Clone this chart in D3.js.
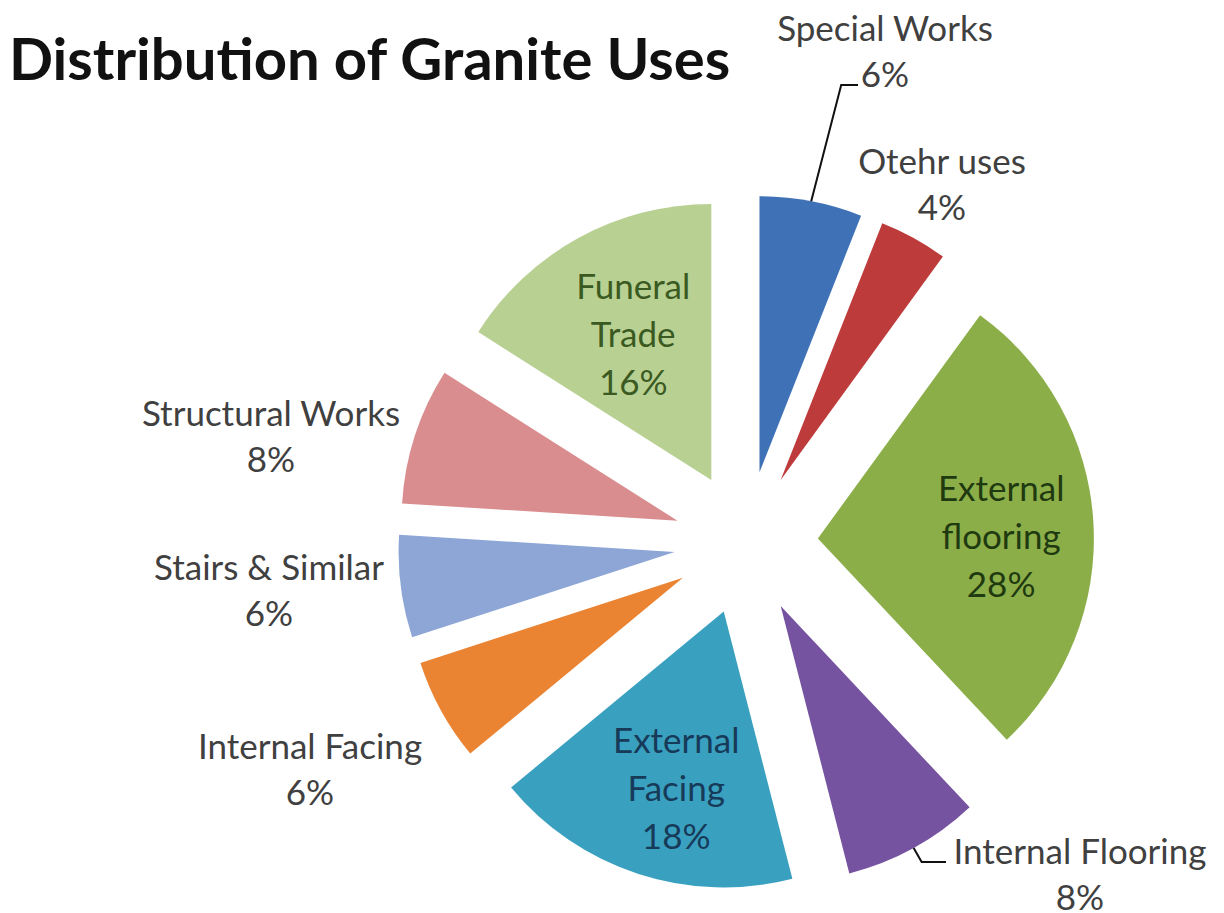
<!DOCTYPE html>
<html>
<head>
<meta charset="utf-8">
<script src="https://cdnjs.cloudflare.com/ajax/libs/d3/7.8.5/d3.min.js"></script>
<style>
  body { margin: 0; background: #fff; }
  svg text { font-family: Lato, "Open Sans", sans-serif; }
</style>
</head>
<body>
<div id="chart"></div>
<script>
// data (clockwise from 12 o'clock)
var categories = ['Special Works', 'Otehr uses', 'External flooring', 'Internal Flooring',
  'External Facing', 'Internal Facing', 'Stairs & Similar', 'Structural Works', 'Funeral Trade']
var shares = [6, 4, 28, 8, 18, 6, 6, 8, 16]
var colors = ['#3f71b6', '#be3b3b', '#8bae48', '#7553a0', '#3aa0c0', '#ea8433',
  '#8da6d6', '#d98d8e', '#b8d092']
var insideText = ['', '', '#1f3a10', '', '#163a58', '', '', '', '#3b5a22']

// label placement: inside labels use a label arc, outside ones sit beside the slice
var inside = ['External flooring', 'External Facing', 'Funeral Trade']
var outsideAt = {
  'Special Works': [885, 28],
  'Otehr uses': [942, 161],
  'Internal Flooring': [1080, 851],
  'Internal Facing': [310, 746],
  'Stairs & Similar': [269, 567],
  'Structural Works': [271, 413]
}
var wrapLines = {
  'External flooring': ['External', 'flooring'],
  'External Facing': ['External', 'Facing'],
  'Funeral Trade': ['Funeral', 'Trade']
}

var width = 1224, height = 913
var cx = 746, cy = 543, r = 276, explode = 72
var fontSize = 35, lineGap = 48

var svg = d3.select('#chart').append('svg')
  .attr('width', width)
  .attr('height', height)

svg.append('text')
  .attr('x', 9)
  .attr('y', 80)
  .attr('font-size', 58)
  .attr('font-weight', 'bold')
  .attr('fill', '#111')
  .text('Distribution of Granite Uses')

var pie = d3.pie().sort(null).value(function(d) { return d.value })
var rows = categories.map(function(c, i) { return { name: c, value: shares[i], i: i } })
var arcs = pie(rows)

var arc = d3.arc().innerRadius(0).outerRadius(r)
var rimArc = d3.arc().innerRadius(r).outerRadius(r)
var labelArc = d3.arc().innerRadius(r * 0.64).outerRadius(r * 0.64)

function offset(a) {
  // push each slice out along its middle angle
  var m = (a.startAngle + a.endAngle) / 2
  return [Math.sin(m) * explode, -Math.cos(m) * explode]
}

var g = svg.append('g').attr('transform', 'translate(' + cx + ',' + cy + ')')

var slices = g.selectAll('g.slice')
  .data(arcs)
  .enter()
  .append('g')
  .attr('class', 'slice')
  .attr('transform', function(d) {
    var o = offset(d)
    return 'translate(' + o[0] + ',' + o[1] + ')'
  })

slices.append('path')
  .attr('d', arc)
  .attr('fill', function(d) { return colors[d.data.i] })

// inside labels (Excel sits them a little lower than the centroid)
slices.filter(function(d) { return inside.indexOf(d.data.name) >= 0 })
  .each(function(d) {
    var c = labelArc.centroid(d)
    var lines = wrapLines[d.data.name].concat([d.data.value + '%'])
    var t = d3.select(this).append('text')
      .attr('text-anchor', 'middle')
      .attr('font-size', fontSize)
      .attr('fill', insideText[d.data.i])
    lines.forEach(function(l, k) {
      t.append('tspan')
        .attr('x', c[0] + 7)
        .attr('y', c[1] + 9 + (k - 1) * lineGap)
        .attr('dy', '0.36em')
        .text(l)
    })
  })

// outside labels
var outer = svg.append('g')
arcs.forEach(function(d) {
  var pos = outsideAt[d.data.name]
  if (!pos) return
  var t = outer.append('text')
    .attr('text-anchor', 'middle')
    .attr('font-size', fontSize)
    .attr('fill', '#404040')
  t.append('tspan').attr('x', pos[0]).attr('y', pos[1]).attr('dy', '0.36em').text(d.data.name)
  t.append('tspan').attr('x', pos[0]).attr('y', pos[1] + lineGap - 2).attr('dy', '0.36em').text(d.data.value + '%')
})

// leader lines for the two labels that need them
function rimPoint(d) {
  var o = offset(d), p = rimArc.centroid(d)
  return [cx + o[0] + p[0], cy + o[1] + p[1]]
}
var special = arcs[categories.indexOf('Special Works')]
var sp = rimPoint(special)
var sl = outsideAt['Special Works']
outer.append('path')
  .attr('d', d3.line()([sp, [sp[0] + 30, sl[1] + 57], [sl[0] - 27, sl[1] + 57]]))
  .attr('fill', 'none')
  .attr('stroke', '#111')
  .attr('stroke-width', 2)

var intFloor = arcs[categories.indexOf('Internal Flooring')]
var ip = rimPoint(intFloor)
var il = outsideAt['Internal Flooring']
outer.append('path')
  .attr('d', d3.line()([ip, [ip[0] + 8, il[1] + 11], [il[0] - 134, il[1] + 11]]))
  .attr('fill', 'none')
  .attr('stroke', '#111')
  .attr('stroke-width', 2)
</script>
</body>
</html>
